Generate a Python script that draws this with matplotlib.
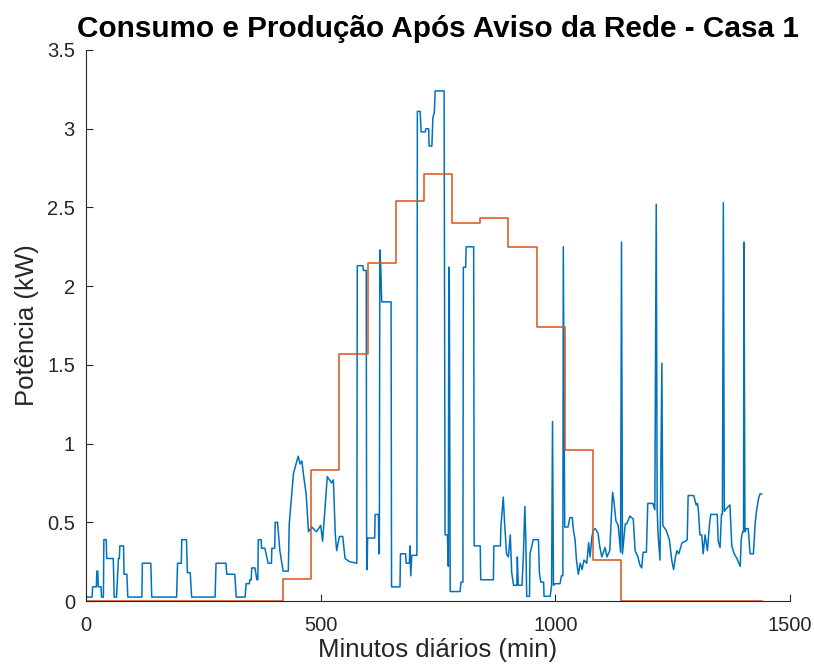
import matplotlib
matplotlib.use("Agg")
import matplotlib.pyplot as plt

# consumo (kW): pares (minuto, kW) por periodo do dia
cons_madrugada = [(0, 0.02), (1, 0.025), (13, 0.025), (14, 0.09), (22, 0.09), (23, 0.19), (25, 0.19),
                  (26, 0.09), (32, 0.09), (33, 0.025), (37, 0.025), (38, 0.39), (43, 0.39), (44, 0.27),
                  (58, 0.27), (60, 0.025), (65, 0.025), (69, 0.27), (71, 0.27), (72, 0.35), (80, 0.35),
                  (81, 0.17), (87, 0.17), (89, 0.025), (119, 0.025), (120, 0.24), (138, 0.24),
                  (140, 0.025), (193, 0.025), (195, 0.24), (203, 0.24), (204, 0.39), (214, 0.39),
                  (216, 0.18), (222, 0.18), (225, 0.025), (275, 0.025), (277, 0.24), (298, 0.24),
                  (300, 0.17), (317, 0.17), (320, 0.025), (339, 0.025), (341, 0.11), (348, 0.11),
                  (349, 0.135), (352, 0.135), (353, 0.21), (360, 0.21), (364, 0.135), (366, 0.135),
                  (367, 0.39), (373, 0.39), (374, 0.335), (381, 0.335), (388, 0.24), (395, 0.24),
                  (396, 0.335), (402, 0.335), (403, 0.50), (408, 0.50), (413, 0.32)]
cons_manha = [(420, 0.19), (431, 0.19), (433, 0.49), (442, 0.81), (452, 0.92), (456, 0.87), (460, 0.89),
              (463, 0.81), (469, 0.68), (474, 0.44), (481, 0.47), (491, 0.44), (500, 0.48), (504, 0.38),
              (509, 0.58), (514, 0.79), (521, 0.76), (523, 0.75), (527, 0.77), (531, 0.43), (534, 0.32),
              (540, 0.41), (547, 0.41), (549, 0.35), (552, 0.27), (561, 0.25), (577, 0.24), (578, 2.13),
              (590, 2.13), (591, 2.10), (597, 2.10), (598, 0.20), (599, 0.20), (600, 0.40), (615, 0.40),
              (616, 0.55), (623, 0.55), (624, 0.30), (625, 0.30), (626, 2.23), (628, 2.12), (630, 1.90),
              (650, 1.90), (651, 0.09), (669, 0.09), (670, 0.30), (681, 0.30), (682, 0.24), (689, 0.24),
              (690, 0.35), (692, 0.16), (694, 0.29), (705, 0.29), (706, 3.11), (712, 3.11), (714, 2.98)]
cons_tarde = [(723, 2.98), (724, 3.00), (730, 3.00), (731, 2.89), (737, 2.89), (739, 3.07), (742, 3.10),
              (744, 3.24), (763, 3.24), (765, 0.42), (770, 0.42), (772, 0.22), (773, 2.12), (774, 2.12),
              (776, 0.06), (797, 0.06), (799, 0.12), (803, 0.12), (804, 2.12), (809, 2.12), (810, 2.25),
              (826, 2.25), (827, 0.35), (840, 0.35), (841, 0.135), (868, 0.135), (869, 0.35), (883, 0.35),
              (884, 0.47), (889, 0.66), (892, 0.49), (896, 0.30), (900, 0.28), (904, 0.42), (907, 0.18),
              (911, 0.10), (918, 0.10), (919, 0.28), (921, 0.10), (929, 0.10), (932, 0.30), (935, 0.60),
              (937, 0.40), (939, 0.03), (945, 0.03), (946, 0.30), (953, 0.39), (964, 0.39), (966, 0.18),
              (969, 0.12), (975, 0.12), (976, 0.03), (989, 0.03), (992, 0.10), (994, 1.14), (996, 0.10),
              (999, 0.11), (1010, 0.11), (1013, 0.16), (1016, 0.16), (1017, 2.25), (1020, 0.47),
              (1027, 0.47), (1031, 0.53), (1036, 0.53), (1039, 0.44), (1042, 0.39), (1045, 0.26),
              (1049, 0.17), (1053, 0.24), (1057, 0.20), (1061, 0.26), (1067, 0.24), (1071, 0.37),
              (1074, 0.28), (1078, 0.41)]
cons_noite = [(1081, 0.45), (1085, 0.46), (1091, 0.43), (1095, 0.34), (1099, 0.28), (1106, 0.34),
              (1110, 0.28), (1116, 0.32), (1118, 0.45), (1122, 0.69), (1125, 0.63), (1129, 0.51),
              (1134, 0.48), (1139, 0.31), (1141, 2.28), (1143, 0.30), (1149, 0.49), (1152, 0.49),
              (1159, 0.54), (1166, 0.52), (1170, 0.32), (1176, 0.28), (1180, 0.23), (1184, 0.21),
              (1187, 0.31), (1194, 0.31), (1197, 0.62), (1208, 0.62), (1212, 0.58), (1215, 2.52),
              (1217, 0.58), (1219, 0.42), (1223, 0.26), (1227, 1.51), (1229, 0.48), (1236, 0.45),
              (1243, 0.39), (1248, 0.26), (1252, 0.20), (1256, 0.28), (1259, 0.32), (1263, 0.30),
              (1270, 0.37), (1277, 0.38), (1281, 0.39), (1283, 0.67), (1295, 0.67), (1300, 0.61),
              (1303, 0.62), (1305, 0.57), (1308, 0.42), (1312, 0.42), (1315, 0.30), (1319, 0.42),
              (1324, 0.32), (1328, 0.47), (1331, 0.55), (1345, 0.55), (1347, 0.38), (1351, 0.34),
              (1354, 0.55), (1356, 0.55), (1358, 2.53), (1360, 0.57), (1365, 0.59), (1372, 0.61),
              (1376, 0.35), (1381, 0.30), (1387, 0.27), (1391, 0.24), (1394, 0.22), (1396, 0.39),
              (1399, 0.44), (1401, 0.44), (1402, 2.28), (1404, 0.44), (1407, 0.46), (1411, 0.46),
              (1415, 0.30), (1422, 0.30), (1426, 0.50), (1429, 0.58), (1433, 0.65), (1436, 0.68),
              (1440, 0.68)]

# producao (kW) por hora, em degraus
prod_min = [0, 420, 480, 540, 600, 660, 720, 780, 840, 900, 960, 1020, 1080, 1140, 1440]
prod_kw = [0, 0.14, 0.83, 1.57, 2.15, 2.54, 2.71, 2.40, 2.43, 2.25, 1.74, 0.96, 0.26, 0, 0]

consumo = cons_madrugada + cons_manha + cons_tarde + cons_noite
cons_min = [p[0] for p in consumo]
cons_kw = [p[1] for p in consumo]

plt.rcParams['font.family'] = ['Liberation Sans', 'DejaVu Sans']
fig = plt.figure(figsize=(8.14, 6.71), dpi=100)
ax = fig.add_axes([0.1057, 0.1043, 0.8648, 0.8212])

ax.plot(cons_min, cons_kw, color='#0072BD', lw=1.1)
ax.step(prod_min, prod_kw, where='post', color='#D95319', lw=1.1)

ax.set_xlim(0, 1500)
ax.set_ylim(0, 3.5)
ax.set_xticks([0, 500, 1000, 1500])
ax.set_yticks([0, 0.5, 1, 1.5, 2, 2.5, 3, 3.5])
ax.set_yticklabels(['0', '0.5', '1', '1.5', '2', '2.5', '3', '3.5'])
for s in ['top', 'right']:
    ax.spines[s].set_visible(False)
for s in ['left', 'bottom']:
    ax.spines[s].set_color('#262626')
ax.tick_params(direction='in', length=5, labelsize=14.5, colors='#262626')
ax.tick_params(axis='x', pad=11)
ax.tick_params(axis='y', pad=8)

ax.set_xlabel('Minutos diários (min)', fontsize=18.5, color='#262626', labelpad=2)
ax.set_ylabel('Potência (kW)', fontsize=18.5, color='#262626', labelpad=6)
ax.set_title('Consumo e Produção Após Aviso da Rede - Casa 1', fontsize=21.4,
             fontweight='bold', pad=9)

fig.savefig('out.png', dpi=100)
